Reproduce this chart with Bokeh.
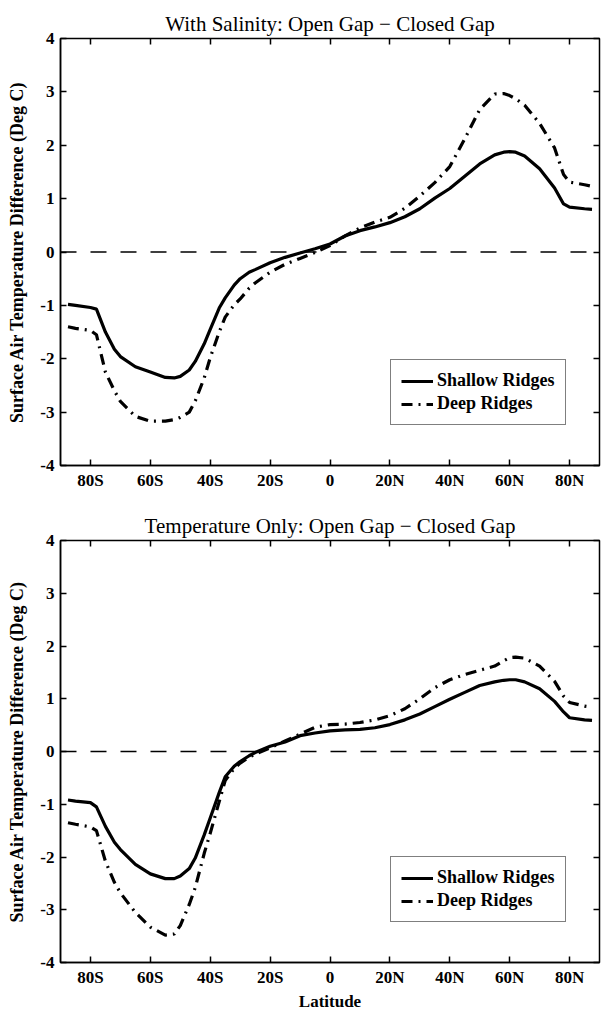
from bokeh.plotting import figure
from bokeh.models import LinearAxis, FixedTicker, Span, Legend, LegendItem, Range1d
from bokeh.layouts import column
from bokeh.embed import file_html
from bokeh.resources import INLINE

# ---------------- data ----------------
LAT = [-87.5, -85, -80, -78, -75, -72, -70, -65, -60, -55, -52, -50, -47, -45,
       -42, -40, -37, -35, -32, -30, -27, -25, -20, -15, -10, -5, 0, 5, 10, 15,
       20, 25, 30, 35, 40, 45, 50, 55, 58, 60, 62, 65, 70, 75, 78, 80, 85, 87.5]

SAL_SHALLOW = [-0.98, -1.00, -1.04, -1.07, -1.50, -1.82, -1.96, -2.15, -2.25, -2.35,
               -2.36, -2.33, -2.21, -2.05, -1.72, -1.45, -1.05, -0.86, -0.62, -0.50,
               -0.38, -0.33, -0.20, -0.10, -0.02, 0.06, 0.15, 0.30, 0.40, 0.47,
               0.55, 0.66, 0.81, 1.01, 1.19, 1.42, 1.65, 1.82, 1.87, 1.88,
               1.87, 1.80, 1.56, 1.20, 0.90, 0.84, 0.81, 0.80]
SAL_DEEP = [-1.40, -1.43, -1.47, -1.55, -2.25, -2.60, -2.80, -3.08, -3.17, -3.17,
            -3.14, -3.10, -3.00, -2.79, -2.36, -1.98, -1.50, -1.22, -0.99, -0.88,
            -0.68, -0.58, -0.38, -0.23, -0.12, -0.01, 0.12, 0.30, 0.45, 0.56,
            0.65, 0.82, 1.05, 1.30, 1.60, 2.12, 2.67, 2.96, 2.97, 2.93,
            2.87, 2.75, 2.41, 1.95, 1.45, 1.31, 1.26, 1.23]

TEMP_SHALLOW = [-0.92, -0.94, -0.97, -1.05, -1.42, -1.72, -1.86, -2.14, -2.32, -2.41,
                -2.41, -2.36, -2.22, -2.02, -1.58, -1.26, -0.78, -0.48, -0.28, -0.19,
                -0.08, -0.02, 0.10, 0.18, 0.30, 0.35, 0.39, 0.41, 0.42, 0.45,
                0.51, 0.60, 0.71, 0.85, 0.99, 1.12, 1.25, 1.32, 1.35, 1.36,
                1.36, 1.32, 1.19, 0.95, 0.75, 0.64, 0.60, 0.59]
TEMP_DEEP = [-1.35, -1.38, -1.43, -1.50, -2.08, -2.48, -2.68, -3.05, -3.33, -3.48,
             -3.46, -3.30, -2.90, -2.58, -1.93, -1.55, -0.95, -0.55, -0.32, -0.22,
             -0.11, -0.05, 0.07, 0.20, 0.33, 0.46, 0.51, 0.52, 0.55, 0.60,
             0.68, 0.81, 1.00, 1.21, 1.36, 1.46, 1.54, 1.62, 1.72, 1.78,
             1.79, 1.77, 1.62, 1.33, 1.05, 0.93, 0.86, 0.84]

X_TICKS = [-80, -60, -40, -20, 0, 20, 40, 60, 80]
X_LABELS = ["80S", "60S", "40S", "20S", "0", "20N", "40N", "60N", "80N"]
Y_TICKS = [-4, -3, -2, -1, 0, 1, 2, 3, 4]
Y_LABELS = ["-4", "-3", "-2", "-1", "0", "1", "2", "3", "4"]
TITLES = ["With Salinity: Open Gap \u2212 Closed Gap",
          "Temperature Only: Open Gap \u2212 Closed Gap"]
SERIES_NAMES = ["Shallow Ridges", "Deep Ridges"]
Y_TITLE = "Surface Air Temperature Difference (Deg C)"
X_TITLE = "Latitude"
ZERO_LEVEL = 0

FONT = "Liberation Serif"


def frame_axis(ticks, where, p):
    ax = LinearAxis(ticker=FixedTicker(ticks=ticks),
                    major_label_overrides={t: "" for t in ticks},
                    major_label_standoff=0, major_tick_in=6, major_tick_out=0,
                    minor_tick_line_color=None, axis_line_color=None,
                    major_tick_line_width=1.5, major_tick_line_color="black")
    p.add_layout(ax, where)


def panel(title, shallow, deep, height, b_top, b_bottom, show_xtitle):
    p = figure(width=602, height=height, x_range=Range1d(-90, 90), y_range=Range1d(-4, 4),
               output_backend="svg", toolbar_location=None,
               min_border_left=60, min_border_right=3,
               min_border_top=b_top, min_border_bottom=b_bottom)
    p.grid.visible = False
    p.background_fill_color = "white"
    p.border_fill_color = "white"
    p.outline_line_color = "black"
    p.outline_line_width = 1.5

    p.title.text = title
    p.title.align = "center"
    p.title.text_font = FONT
    p.title.text_font_size = "21px"
    p.title.text_font_style = "normal"
    p.title.text_color = "black"
    p.title.standoff = 5

    xt = {v: s for v, s in zip(X_TICKS, X_LABELS)}
    yt = {v: s for v, s in zip(Y_TICKS, Y_LABELS)}

    xa = p.xaxis[0]
    xa.ticker = FixedTicker(ticks=X_TICKS)
    xa.major_label_overrides = xt
    ya = p.yaxis[0]
    ya.ticker = FixedTicker(ticks=Y_TICKS)
    ya.major_label_overrides = yt
    for ax in (xa, ya):
        ax.major_tick_in = 6
        ax.major_tick_out = 0
        ax.minor_tick_line_color = None
        ax.axis_line_width = 1.5
        ax.axis_line_color = "black"
        ax.major_tick_line_width = 1.5
        ax.major_tick_line_color = "black"
        ax.major_label_text_font = FONT
        ax.major_label_text_font_style = "bold"
        ax.major_label_text_color = "black"
        ax.axis_label_text_color = "black"
    xa.major_label_text_font_size = "17px"
    xa.major_label_standoff = 5
    ya.major_label_text_font_size = "17px"
    ya.major_label_standoff = 6
    ya.axis_label = Y_TITLE
    ya.axis_label_text_font = FONT
    ya.axis_label_text_font_style = "bold"
    ya.axis_label_text_font_size = "18px"
    ya.axis_label_standoff = 10
    if show_xtitle:
        xa.axis_label = X_TITLE
        xa.axis_label_text_font = FONT
        xa.axis_label_text_font_style = "bold"
        xa.axis_label_text_font_size = "17px"
        xa.axis_label_standoff = 2

    frame_axis(X_TICKS, "above", p)
    frame_axis(Y_TICKS, "right", p)

    p.add_layout(Span(location=ZERO_LEVEL, dimension="width", line_color="black",
                      line_width=1.5, line_dash="16 14"))

    r1 = p.line(LAT, shallow, line_color="black", line_width=3.2)
    r2 = p.line(LAT, deep, line_color="black", line_width=3.2, line_dash="11 6 2 6")

    leg = Legend(items=[LegendItem(label=SERIES_NAMES[0], renderers=[r1]),
                        LegendItem(label=SERIES_NAMES[1], renderers=[r2])],
                 location=(330, 40))
    leg.border_line_color = "black"
    leg.border_line_width = 1.5
    leg.background_fill_color = "white"
    leg.background_fill_alpha = 1
    leg.label_text_font = FONT
    leg.label_text_font_style = "bold"
    leg.label_text_font_size = "18px"
    leg.label_text_color = "black"
    leg.glyph_width = 32
    leg.glyph_height = 20
    leg.label_height = 20
    leg.label_standoff = 4
    leg.padding = 10
    leg.spacing = 2
    leg.margin = 0
    p.add_layout(leg)
    return p


p1 = panel(TITLES[0], SAL_SHALLOW, SAL_DEEP, 495, 38, 30, False)
p2 = panel(TITLES[1], TEMP_SHALLOW, TEMP_DEEP, 518, 45, 46, True)

layout = column(p1, p2, spacing=0)
open("out.html", "w").write(file_html(layout, INLINE))
